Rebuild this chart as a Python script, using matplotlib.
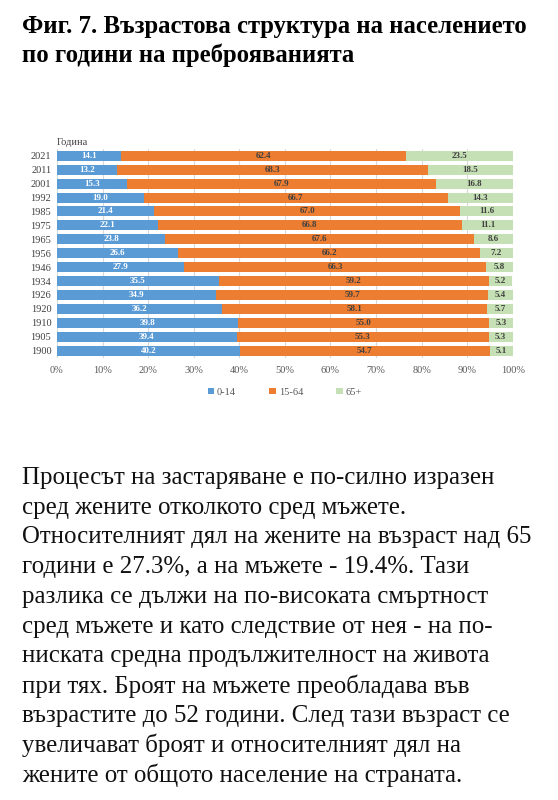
import matplotlib.pyplot as plt
import numpy as np

years = ['2021', '2011', '2001', '1992', '1985', '1975', '1965', '1956',
         '1946', '1934', '1926', '1920', '1910', '1905', '1900']
age_0_14 = [14.1, 13.2, 15.3, 19.0, 21.4, 22.1, 23.8, 26.6, 27.9, 35.5, 34.9, 36.2, 39.8, 39.4, 40.2]
age_15_64 = [62.4, 68.3, 67.9, 66.7, 67.0, 66.8, 67.6, 66.2, 66.3, 59.2, 59.7, 58.1, 55.0, 55.3, 54.7]
age_65 = [23.5, 18.5, 16.8, 14.3, 11.6, 11.1, 8.6, 7.2, 5.8, 5.2, 5.4, 5.7, 5.3, 5.3, 5.1]
series_names = ['0-14', '15-64', '65+']
x_ticks = ['0%', '10%', '20%', '30%', '40%', '50%', '60%', '70%', '80%', '90%', '100%']

title_lines = ['Фиг. 7. Възрастова структура на населението',
               'по години на преброяванията']
body_lines = ['Процесът на застаряване е по-силно изразен',
              'сред жените отколкото сред мъжете.',
              'Относителният дял на жените на възраст над 65',
              'години е 27.3%, а на мъжете - 19.4%. Тази',
              'разлика се дължи на по-високата смъртност',
              'сред мъжете и като следствие от нея - на по-',
              'ниската средна продължителност на живота',
              'при тях. Броят на мъжете преобладава във',
              'възрастите до 52 години. След тази възраст се',
              'увеличават броят и относителният дял на',
              'жените от общото население на страната.']

plt.rcParams['font.family'] = ['Liberation Serif', 'DejaVu Serif']

fig = plt.figure(figsize=(5.58, 8.0), dpi=100)
ax = fig.add_axes([0.102, 0.553, 0.817, 0.261])

y = np.arange(len(years))
colors = ['#5B9BD5', '#ED7D31', '#C5E0B4']
label_colors = ['white', '#404040', '#404040']
left = np.zeros(len(years))
for vals, name, c, lc in zip([age_0_14, age_15_64, age_65], series_names, colors, label_colors):
    vals = np.array(vals)
    bars = ax.barh(y, vals, left=left, height=0.72, color=c, label=name, zorder=2)
    ax.bar_label(bars, labels=[f'{v:.1f}' for v in vals], label_type='center',
                 color=lc, fontsize=6.5, fontweight='bold')
    left = left + vals

ax.set_xlim(0, 100)
ax.set_ylim(len(years) - 0.5, -0.5)
ax.set_yticks(y)
ax.set_yticklabels(years, fontsize=7.5, color='#404040')
ax.set_xticks(np.arange(0, 101, 10))
ax.set_xticklabels(x_ticks, fontsize=7.5, color='#595959')
ax.tick_params(length=0, pad=6)
ax.tick_params(axis='y', pad=4)
ax.grid(axis='x', color='#D9D9D9', linewidth=0.8, zorder=0)
for s in ax.spines.values():
    s.set_visible(False)
ax.text(0.0, 1.01, 'Година', transform=ax.transAxes, fontsize=7.5, color='#404040', va='bottom', ha='left')

ax.legend(loc='upper center', bbox_to_anchor=(0.5, -0.1), ncol=3, frameon=False,
          fontsize=7.5, handlelength=0.6, handleheight=0.6, handletextpad=0.3,
          columnspacing=3.2, labelcolor='#595959')

for i, line in enumerate(title_lines):
    fig.text(0.039, 1 - (27 + i * 28) / 800, line, fontsize=17.8, fontweight='bold', va='center', ha='left')

for i, line in enumerate(body_lines):
    fig.text(0.039, 1 - (478 + i * 29.7) / 800, line, fontsize=17.9, va='center', ha='left', color='#111111')

fig.savefig('out.png', dpi=100)
